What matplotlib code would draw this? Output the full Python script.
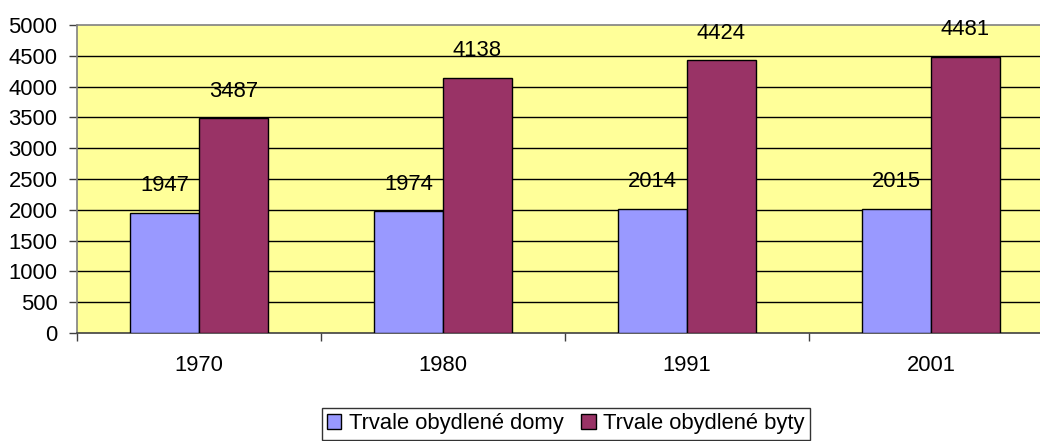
import matplotlib.pyplot as plt
import numpy as np

years = ['1970', '1980', '1991', '2001']
domy = [1947, 1974, 2014, 2015]
byty = [3487, 4138, 4424, 4481]
series_names = ['Trvale obydlené domy', 'Trvale obydlené byty']

plt.rcParams['font.family'] = ['Liberation Sans', 'DejaVu Sans']
FS = 15.8

fig = plt.figure(figsize=(10.4, 4.41), dpi=100)
ax = fig.add_axes([77 / 1040, 108 / 441, 963 / 1040, 308 / 441])
ax.set_facecolor('#FFFF99')

x = np.arange(len(years))
w = 0.283
b1 = ax.bar(x - w / 2, domy, width=w, color='#9999FF', edgecolor='black', linewidth=1, label=series_names[0], zorder=3)
b2 = ax.bar(x + w / 2, byty, width=w, color='#993366', edgecolor='black', linewidth=1, label=series_names[1], zorder=3)

for bars, vals in ((b1, domy), (b2, byty)):
    for r, v in zip(bars, vals):
        ax.annotate(str(v), (r.get_x() + r.get_width() / 2, v), xytext=(0, 12),
                    textcoords='offset points', ha='center', va='bottom', fontsize=FS)

ax.set_ylim(0, 5000)
ax.set_yticks(range(0, 5001, 500))
ax.set_xlim(-0.5, 3.447)
for yv in range(500, 5000, 500):
    ax.axhline(yv, color='black', linewidth=1, zorder=1)

ax.set_xticks(x)
ax.set_xticklabels(years)
ax.set_xticks([-0.5, 0.5, 1.5, 2.5], minor=True)
ax.tick_params(axis='x', which='major', length=0, pad=16, labelsize=FS)
ax.tick_params(axis='x', which='minor', length=6, width=1, color='#404040')
ax.tick_params(axis='y', length=6, width=1, color='#404040', pad=8, labelsize=FS)

ax.spines['right'].set_visible(False)
ax.spines['top'].set_color('#808080')
ax.spines['left'].set_color('#808080')
ax.spines['bottom'].set_color('#404040')
for s in ax.spines.values():
    s.set_linewidth(1.2)

leg = fig.legend(handles=[b1, b2], loc='center', bbox_to_anchor=(566 / 1040, 1 - 424 / 441),
                 ncol=2, frameon=True, fancybox=False, fontsize=FS, handlelength=0.65,
                 handleheight=0.65, handletextpad=0.35, columnspacing=0.8,
                 borderpad=0.25, borderaxespad=0)
leg.get_frame().set_edgecolor('black')
leg.get_frame().set_linewidth(1)

fig.savefig('out.png', dpi=100)
